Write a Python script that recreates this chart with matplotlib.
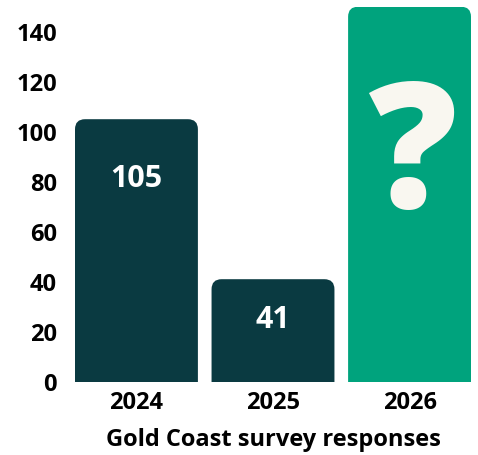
import matplotlib
matplotlib.use("Agg")
import matplotlib.pyplot as plt
from matplotlib.patches import FancyBboxPatch

plt.rcParams['font.family'] = ['Open Sans', 'DejaVu Sans']

# data
years = ['2024', '2025', '2026']
responses = [105, 41, 150]
bar_labels = ['105', '41', '?']
yticks = [0, 20, 40, 60, 80, 100, 120, 140]
dark = '#0a3a41'
green = '#00a37d'
cream = '#f9f7f0'
colors = [dark, dark, green]

fig = plt.figure(figsize=(4.78, 4.55), dpi=100, facecolor='white')
ax = fig.add_axes([75 / 478, 73.3 / 455, 396 / 478, 375 / 455])

xs = list(range(len(years)))
bars = ax.bar(xs, responses, width=0.9, color=colors)
ax.set_xlim(-0.45, len(years) - 0.55)
ax.set_ylim(0, 150)

# rounded top corners
radius_px = 10
px_per_x = 396 / (ax.get_xlim()[1] - ax.get_xlim()[0])
px_per_y = 375 / (ax.get_ylim()[1] - ax.get_ylim()[0])
r_x = radius_px / px_per_x
aspect = px_per_x / px_per_y
for b, c in zip(bars, colors):
    b.set_visible(False)
    x0, w, h = b.get_x(), b.get_width(), b.get_height()
    extra = 2 * r_x * aspect
    patch = FancyBboxPatch((x0, -extra), w, h + extra,
                           boxstyle=f"round,pad=0,rounding_size={r_x}",
                           mutation_aspect=aspect, facecolor=c,
                           edgecolor='none', clip_on=True)
    ax.add_patch(patch)

# labels inside bars
ax.text(xs[0], 81, bar_labels[0], ha='center', va='center', color='white',
        fontsize=22, fontweight='bold')
ax.text(xs[1], 24.5, bar_labels[1], ha='center', va='center', color='white',
        fontsize=22, fontweight='bold')
ax.text(xs[2] + 0.02, 69.5, bar_labels[2], ha='center', va='baseline', color=cream,
        fontsize=126, fontweight='black')

ax.set_yticks(yticks)
ax.set_xticks(xs)
ax.set_xticklabels(years)
ax.tick_params(length=0, labelsize=17, pad=7)
ax.tick_params(axis='y', pad=13)
for lab in ax.get_xticklabels() + ax.get_yticklabels():
    lab.set_fontweight('bold')
ax.set_xlabel('Gold Coast survey responses', fontsize=17, fontweight='bold',
              labelpad=9)
for s in ax.spines.values():
    s.set_visible(False)

fig.savefig('out.png', dpi=100, facecolor='white')
